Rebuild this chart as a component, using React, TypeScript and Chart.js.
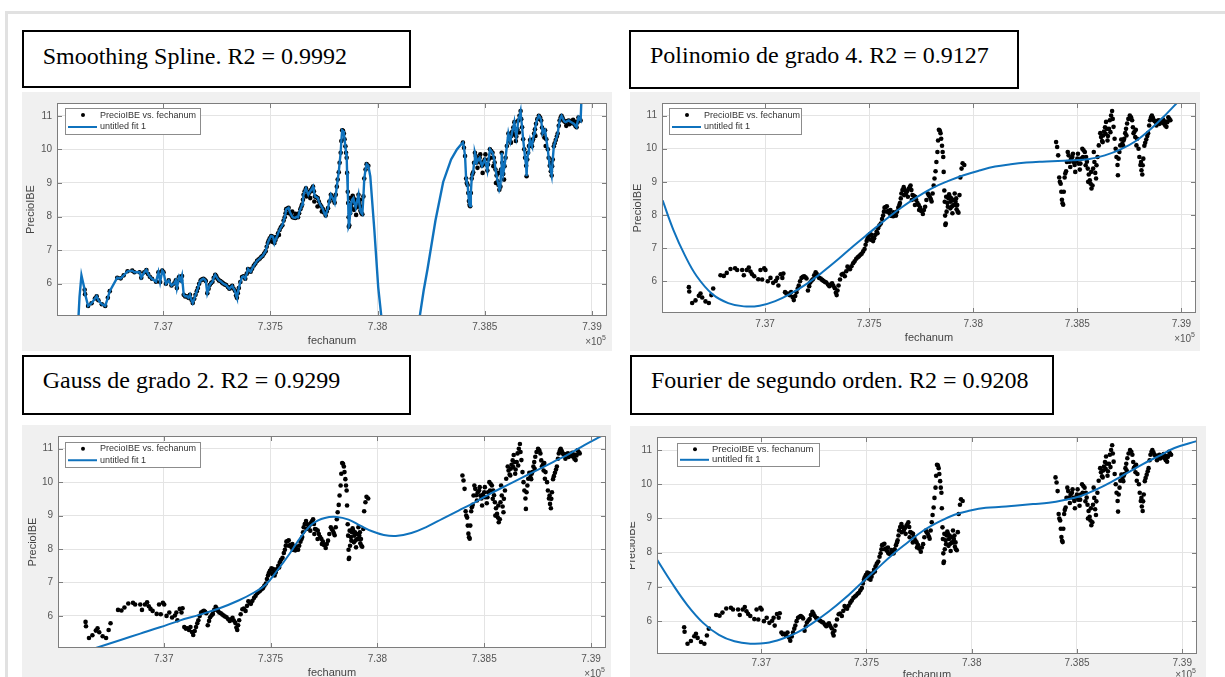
import React, { useEffect, useRef } from "react";
import { Chart, registerables } from "chart.js";

Chart.register(...registerables);

// ---------- data (x in units of 10^5, y = PrecioIBE) ----------
const X_TICKS = [7.37, 7.375, 7.38, 7.385, 7.39];
const Y_TICKS = [6, 7, 8, 9, 10, 11];
const X_MIN = 7.36505;
const X_MAX = 7.3907;
const Y_MIN = 5.04;
const Y_MAX = 11.38;

const SCATTER_LABEL = "PrecioIBE vs. fechanum";
const FIT_LABEL = "untitled fit 1";
const X_TITLE = "fechanum";
const Y_TITLE = "PrecioIBE";

const period1: [number, number][] = [
  [7.36634, 5.82], [7.36636, 5.69], [7.3665, 5.34], [7.36666, 5.42], [7.36682, 5.56],
  [7.3669, 5.63], [7.36698, 5.51], [7.36714, 5.39], [7.3673, 5.34], [7.36742, 5.58],
  [7.36751, 5.78], [7.36786, 6.18], [7.36802, 6.16], [7.36816, 6.25], [7.36834, 6.37],
  [7.36856, 6.39], [7.36866, 6.34], [7.3689, 6.34], [7.36898, 6.18], [7.36912, 6.34],
  [7.36922, 6.41], [7.3693, 6.29], [7.36938, 6.21], [7.36948, 6.15], [7.36967, 6.06],
  [7.36978, 6.34], [7.36986, 6.05], [7.36996, 6.39], [7.37002, 6.34], [7.37013, 6.0],
  [7.37026, 6.1], [7.37039, 5.95], [7.37052, 6.01], [7.37059, 6.1], [7.37064, 5.87],
  [7.37075, 6.21], [7.37083, 6.1], [7.37088, 6.23],
  [7.37096, 5.67], [7.37103, 5.62], [7.3711, 5.63], [7.37118, 5.58], [7.37125, 5.67],
  [7.37132, 5.52], [7.37138, 5.43], [7.37145, 5.55], [7.37151, 5.67], [7.37157, 5.78],
  [7.37162, 5.87], [7.37168, 6.0], [7.37175, 6.1], [7.37182, 6.13], [7.37188, 6.15],
  [7.37194, 6.12], [7.37199, 6.08], [7.37206, 5.72], [7.37212, 5.85], [7.37217, 5.96],
  [7.37224, 6.02], [7.3723, 6.06], [7.37236, 6.18], [7.37243, 6.27], [7.37248, 6.22],
  [7.37254, 6.15], [7.3726, 6.1], [7.37267, 6.08], [7.37274, 6.04], [7.3728, 6.01],
  [7.37287, 5.98], [7.37294, 5.96], [7.37302, 5.9], [7.37309, 5.85], [7.37316, 5.9],
  [7.37322, 5.94], [7.37328, 5.86], [7.37335, 5.79], [7.3734, 5.65], [7.37344, 5.58],
  [7.37348, 5.72], [7.37353, 5.87], [7.3736, 6.05], [7.37368, 6.2], [7.37375, 6.22],
  [7.37383, 6.15], [7.3739, 6.3], [7.37396, 6.44], [7.37402, 6.4], [7.37408, 6.36],
  [7.37415, 6.45], [7.37423, 6.54], [7.3743, 6.6], [7.37438, 6.68], [7.37445, 6.72],
  [7.37451, 6.75], [7.37458, 6.8], [7.37464, 6.83], [7.37471, 6.9], [7.37478, 6.97],
  [7.37483, 7.1], [7.37488, 7.21], [7.37492, 7.28], [7.37497, 7.35], [7.37504, 7.42],
  [7.37512, 7.4], [7.37516, 7.3], [7.37519, 7.21], [7.37524, 7.3], [7.3753, 7.4],
  [7.37536, 7.5], [7.37543, 7.6], [7.37549, 7.68], [7.37556, 7.74], [7.37562, 7.88],
  [7.37567, 7.98], [7.37571, 8.1], [7.37574, 8.22], [7.3758, 8.24], [7.37585, 8.26],
  [7.37592, 8.12], [7.37598, 8.05], [7.37604, 7.98], [7.3761, 7.97], [7.37616, 7.96],
  [7.37622, 7.99], [7.37629, 7.98], [7.37634, 8.1], [7.3764, 8.22], [7.37645, 8.3],
  [7.37648, 8.36], [7.37652, 8.5], [7.37655, 8.65], [7.3766, 8.75], [7.37666, 8.84],
  [7.37671, 8.75], [7.37677, 8.65], [7.37683, 8.72], [7.3769, 8.79], [7.37695, 8.84],
  [7.37699, 8.89], [7.37703, 8.75], [7.37708, 8.6], [7.37714, 8.58], [7.37721, 8.55],
  [7.37726, 8.45], [7.37732, 8.36], [7.37738, 8.3], [7.37745, 8.22], [7.3775, 8.12],
  [7.37758, 8.03], [7.37763, 8.15], [7.37769, 8.25], [7.37775, 8.45], [7.37782, 8.65],
  [7.37786, 8.6], [7.37791, 8.55], [7.37796, 8.48], [7.378, 8.41], [7.37805, 8.65],
  [7.3781, 8.89], [7.37814, 9.1], [7.37819, 9.32], [7.37823, 9.6], [7.37828, 9.9],
  [7.37831, 10.25], [7.37835, 10.57], [7.37839, 10.55], [7.37843, 10.47], [7.37846, 10.3],
  [7.3785, 10.09], [7.37853, 9.9], [7.37856, 9.75], [7.37858, 9.3], [7.37861, 8.74],
  [7.37863, 8.4], [7.37865, 7.98], [7.37866, 7.7], [7.37868, 7.74], [7.37872, 8.1],
  [7.37876, 8.36], [7.37881, 8.5], [7.37887, 8.55], [7.37892, 8.4], [7.37898, 8.26],
  [7.37904, 8.45], [7.37911, 8.65], [7.37915, 8.4], [7.3792, 8.17], [7.37925, 8.1],
  [7.37929, 8.07], [7.37934, 8.6], [7.37938, 9.13], [7.37944, 9.4], [7.37949, 9.56],
  [7.37957, 9.51],
];

const period2: [number, number][] = [
  [7.38398, 10.2], [7.38403, 10.05], [7.38408, 9.8], [7.38413, 9.13], [7.38416, 9.0],
  [7.3842, 8.94], [7.38423, 8.7], [7.38426, 8.46], [7.38429, 8.35], [7.38432, 8.31],
  [7.38435, 8.7], [7.38439, 9.13], [7.38442, 9.25], [7.38446, 9.32], [7.3845, 9.6],
  [7.38454, 9.9], [7.38458, 9.8], [7.38463, 9.61], [7.3847, 9.7], [7.38476, 9.75],
  [7.38482, 9.6], [7.38487, 9.51], [7.38494, 9.62], [7.385, 9.7], [7.38506, 9.55],
  [7.38512, 9.37], [7.38518, 9.7], [7.38524, 10.0], [7.3853, 9.95], [7.38536, 9.9],
  [7.38542, 9.75], [7.38546, 9.61], [7.3855, 9.4], [7.38555, 9.22], [7.3856, 9.05],
  [7.38564, 8.94], [7.38568, 8.8], [7.38573, 8.89], [7.38576, 9.4], [7.38579, 9.9],
  [7.38582, 9.6], [7.38586, 9.27], [7.38592, 9.5], [7.38597, 9.75], [7.38603, 10.1],
  [7.3861, 10.47], [7.38614, 10.35], [7.38619, 10.23], [7.38624, 10.4], [7.38628, 10.52],
  [7.38633, 10.65], [7.38638, 10.81], [7.38642, 10.6], [7.38647, 10.38], [7.38652, 10.6],
  [7.38656, 10.86], [7.38662, 11.0], [7.38667, 11.14], [7.3867, 10.9], [7.38674, 10.66],
  [7.38679, 10.3], [7.38684, 10.0], [7.38688, 9.75], [7.38693, 9.51], [7.38695, 9.2],
  [7.38698, 9.7], [7.38702, 9.9], [7.38706, 10.1], [7.38711, 10.28], [7.38716, 10.15],
  [7.3872, 10.09], [7.38725, 10.3], [7.3873, 10.47], [7.38734, 10.6], [7.38739, 10.76],
  [7.38745, 10.9], [7.38752, 11.0], [7.38758, 10.95], [7.38763, 10.86], [7.38767, 10.65],
  [7.3877, 10.47], [7.38775, 10.52], [7.38781, 10.57], [7.38787, 10.3], [7.38794, 10.0],
  [7.38798, 9.75], [7.38803, 9.51], [7.38808, 9.35], [7.38812, 9.22], [7.38817, 9.7],
  [7.38822, 10.09], [7.38826, 10.18], [7.38831, 10.28], [7.38836, 10.38], [7.3884, 10.47],
  [7.38845, 10.7], [7.38849, 10.86], [7.38854, 10.95], [7.38858, 11.0], [7.38863, 10.93],
  [7.38868, 10.86], [7.38872, 10.83], [7.38877, 10.81], [7.38885, 10.84], [7.38892, 10.86],
  [7.38898, 10.83], [7.38904, 10.81], [7.3891, 10.78], [7.38917, 10.76], [7.38922, 10.7],
  [7.38928, 10.66], [7.38932, 10.8], [7.38937, 10.95], [7.38942, 10.9], [7.38947, 10.86],
];

// further observations lying off the smoothed path (dense clusters)
const extraPrices: [number, number][] = [
  [7.3787, 8.55], [7.37878, 8.25], [7.37884, 8.62], [7.3789, 8.2], [7.37895, 8.5],
  [7.379, 8.05], [7.37906, 8.3], [7.37913, 8.3], [7.37918, 8.5], [7.37923, 8.3],
  [7.37668, 8.6], [7.37686, 8.55], [7.37705, 8.45], [7.3772, 8.3], [7.3774, 8.15],
  [7.37586, 8.1], [7.37602, 8.15], [7.37618, 8.08], [7.37508, 7.25], [7.3754, 7.45],
  [7.38466, 9.45], [7.38479, 9.85], [7.3849, 9.3], [7.38503, 9.85], [7.38515, 9.55],
  [7.38527, 9.75], [7.3854, 9.5], [7.38552, 9.0], [7.38566, 9.3], [7.3859, 9.1],
  [7.38622, 10.2], [7.38636, 10.45], [7.38645, 10.25], [7.38659, 10.5], [7.38722, 10.25],
  [7.38736, 10.4], [7.38778, 10.35], [7.38784, 10.1], [7.38806, 9.6], [7.38814, 9.5],
  [7.3888, 10.7], [7.38895, 10.75], [7.38912, 10.88], [7.38926, 10.82],
];

// smoothing spline: extra pieces outside the data (start, gap, end)
const splineLead: [number, number][] = [
  [7.36601, 4.5], [7.3661, 5.6], [7.36619, 6.25], [7.36626, 6.05],
];
const splineGap: [number, number][] = [
  [7.37966, 9.2], [7.37985, 7.6], [7.38003, 5.9], [7.38018, 5.0], [7.381, 2.0],
  [7.38196, 5.0], [7.38215, 5.8], [7.38233, 6.44], [7.3827, 7.88], [7.38306, 9.03],
  [7.38343, 9.7], [7.3837, 10.0], [7.3839, 10.15],
];
const splineTail: [number, number][] = [[7.38952, 11.7]];

const polyFit: [number, number][] = [
  [7.36508, 8.44], [7.36559, 7.56], [7.36615, 6.78], [7.36672, 6.15], [7.36747, 5.61],
  [7.36823, 5.34], [7.36898, 5.24], [7.36974, 5.26], [7.37049, 5.4], [7.37124, 5.63],
  [7.372, 5.92], [7.37275, 6.27], [7.37351, 6.66], [7.37426, 7.07], [7.37501, 7.46],
  [7.37577, 7.85], [7.37652, 8.21], [7.37728, 8.53], [7.37803, 8.81], [7.37878, 9.02],
  [7.37954, 9.2], [7.38029, 9.34], [7.38105, 9.46], [7.3818, 9.53], [7.38255, 9.58],
  [7.38331, 9.61], [7.38406, 9.63], [7.38482, 9.65], [7.38557, 9.69], [7.38632, 9.8],
  [7.38708, 9.98], [7.38783, 10.24], [7.38859, 10.63], [7.38934, 11.09], [7.38981, 11.4],
];

const gaussFit: [number, number][] = [
  [7.36682, 5.04], [7.36798, 5.28], [7.3689, 5.47], [7.36982, 5.66], [7.37074, 5.86],
  [7.37166, 6.03], [7.37258, 6.22], [7.3735, 6.46], [7.37423, 6.7], [7.37478, 6.94],
  [7.37534, 7.38], [7.37589, 7.86], [7.37644, 8.38], [7.37699, 8.77], [7.37754, 8.93],
  [7.3781, 8.96], [7.37865, 8.88], [7.3792, 8.7], [7.37975, 8.53], [7.3803, 8.42],
  [7.38086, 8.39], [7.38159, 8.48], [7.38233, 8.67], [7.38306, 8.91], [7.3838, 9.15],
  [7.38454, 9.39], [7.38527, 9.65], [7.38601, 9.89], [7.38675, 10.13], [7.38748, 10.36],
  [7.38822, 10.6], [7.38896, 10.84], [7.38969, 11.11], [7.39052, 11.39],
];

const fourierFit: [number, number][] = [
  [7.36502, 7.83], [7.36575, 7.12], [7.36649, 6.47], [7.36724, 5.95], [7.36799, 5.6],
  [7.36873, 5.41], [7.36948, 5.34], [7.37022, 5.36], [7.37097, 5.48], [7.37172, 5.67],
  [7.37246, 5.95], [7.37321, 6.28], [7.37396, 6.66], [7.3747, 7.08], [7.37545, 7.5],
  [7.37619, 7.92], [7.37694, 8.29], [7.37769, 8.64], [7.37843, 8.9], [7.37918, 9.11],
  [7.37993, 9.23], [7.38067, 9.31], [7.38142, 9.34], [7.38216, 9.38], [7.38291, 9.42],
  [7.38366, 9.46], [7.3844, 9.54], [7.38515, 9.65], [7.3859, 9.84], [7.38664, 10.07],
  [7.38739, 10.33], [7.38813, 10.59], [7.38888, 10.82], [7.38963, 11.06], [7.39069, 11.26],
];

// ---------- styling ----------
const SANS = '"Liberation Sans", Arial, Helvetica, sans-serif';
const SERIF = '"Liberation Serif", "Times New Roman", serif';
const BLUE = "#0f72bd";
const GRID = "#e4e4e4";
const AXIS = "#7d7d7d";
const TICK_TXT = "#555555";
const TITLE_TXT = "#444444";

type Pts = [number, number][];

const toXY = (pts: Pts) => pts.map(([x, y]) => ({ x, y }));

const splineLine: Pts = [...splineLead, ...period1, ...splineGap, ...period2, ...splineTail];
const allPrices: Pts = [...period1, ...period2, ...extraPrices];

const panels = [
  {
    key: "tl",
    title: "Smoothing Spline. R2 = 0.9992",
    box: { l: 22, t: 30, w: 389, h: 58 },
    text: { x: 42.7, base: 64.3 },
    cv: { l: 22, t: 92, w: 590, h: 259 },
    area: { l: 35, t: 3, r: 585, b: 224 },
    fit: splineLine,
    tension: 0,
    lineWidth: 2.4,
    legend: { dx: 8, dy: 5, w: 135, h: 26, font: 9 },
    xTickPad: 5,
    xTitleDy: 25,
    yTitleX: 9,
    expDy: 29,
  },
  {
    key: "tr",
    title: "Polinomio de grado 4. R2 = 0.9127",
    box: { l: 629, t: 30, w: 390, h: 59 },
    text: { x: 650, base: 63.5 },
    cv: { l: 630, t: 92, w: 570, h: 259 },
    area: { l: 32, t: 4, r: 566, b: 221 },
    fit: polyFit,
    tension: 0.4,
    lineWidth: 2,
    legend: { dx: 7, dy: 5, w: 132, h: 26, font: 9 },
    xTickPad: 5,
    xTitleDy: 25,
    yTitleX: 7.5,
    expDy: 29,
  },
  {
    key: "bl",
    title: "Gauss de grado 2. R2 = 0.9299",
    box: { l: 22, t: 355, w: 389, h: 60 },
    text: { x: 42.7, base: 387.7 },
    cv: { l: 22, t: 425, w: 589, h: 252 },
    area: { l: 36, t: 3, r: 584, b: 223 },
    fit: gaussFit,
    tension: 0.4,
    lineWidth: 2,
    legend: { dx: 7, dy: 6, w: 135, h: 25, font: 9 },
    xTickPad: 5,
    xTitleDy: 25,
    yTitleX: 10.8,
    expDy: 29,
  },
  {
    key: "br",
    title: "Fourier de segundo orden. R2 = 0.9208",
    box: { l: 630, t: 355, w: 424, h: 60 },
    text: { x: 651, base: 387.7 },
    cv: { l: 630, t: 426, w: 576, h: 251 },
    area: { l: 27, t: 2, r: 567, b: 228 },
    fit: fourierFit,
    tension: 0.4,
    lineWidth: 2,
    legend: { dx: 20, dy: 6, w: 142, h: 23, font: 9.5 },
    xTickPad: 3,
    xTitleDy: 21,
    yTitleX: 2,
    expDy: 24,
  },
];

type PanelCfg = (typeof panels)[number];

function matlabPlugin(p: PanelCfg) {
  return {
    id: "matlabLook_" + p.key,
    beforeDraw(chart: any) {
      const { ctx, chartArea: a, width, height } = chart;
      ctx.save();
      ctx.fillStyle = "#f0f0f0";
      ctx.fillRect(0, 0, width, height);
      ctx.fillStyle = "#ffffff";
      ctx.fillRect(a.left, a.top, a.right - a.left, a.bottom - a.top);
      ctx.restore();
    },
    afterDraw(chart: any) {
      const { ctx, chartArea: a, scales } = chart;
      ctx.save();
      // axes box
      ctx.strokeStyle = AXIS;
      ctx.lineWidth = 1;
      ctx.strokeRect(a.left + 0.5, a.top + 0.5, a.right - a.left - 1, a.bottom - a.top - 1);
      // inward tick marks
      ctx.beginPath();
      X_TICKS.forEach((v) => {
        const px = Math.round(scales.x.getPixelForValue(v)) + 0.5;
        ctx.moveTo(px, a.bottom);
        ctx.lineTo(px, a.bottom - 5);
        ctx.moveTo(px, a.top);
        ctx.lineTo(px, a.top + 5);
      });
      Y_TICKS.forEach((v) => {
        const py = Math.round(scales.y.getPixelForValue(v)) + 0.5;
        ctx.moveTo(a.left, py);
        ctx.lineTo(a.left + 5, py);
        ctx.moveTo(a.right, py);
        ctx.lineTo(a.right - 5, py);
      });
      ctx.stroke();

      // legend
      const lg = p.legend;
      const lx = a.left + lg.dx;
      const ly = a.top + lg.dy;
      ctx.fillStyle = "#ffffff";
      ctx.fillRect(lx, ly, lg.w, lg.h);
      ctx.strokeStyle = "#8c8c8c";
      ctx.strokeRect(Math.round(lx) + 0.5, Math.round(ly) + 0.5, lg.w, lg.h);
      const r1 = ly + lg.h * 0.27;
      const r2 = ly + lg.h * 0.73;
      const ds = chart.data.datasets;
      ctx.fillStyle = "#000";
      ctx.beginPath();
      ctx.arc(lx + 18, r1, 2, 0, Math.PI * 2);
      ctx.fill();
      ctx.strokeStyle = BLUE;
      ctx.lineWidth = 2;
      ctx.beginPath();
      ctx.moveTo(lx + 3, r2);
      ctx.lineTo(lx + 32, r2);
      ctx.stroke();
      ctx.fillStyle = "#333333";
      ctx.font = `${lg.font}px ${SANS}`;
      ctx.textAlign = "left";
      ctx.textBaseline = "middle";
      ctx.fillText(ds[1].label, lx + 35, r1);
      ctx.fillText(ds[0].label, lx + 35, r2);

      // axis titles
      ctx.fillStyle = TITLE_TXT;
      ctx.font = `11px ${SANS}`;
      ctx.textAlign = "center";
      ctx.textBaseline = "middle";
      ctx.fillText(X_TITLE, (a.left + a.right) / 2, a.bottom + p.xTitleDy);
      ctx.save();
      ctx.translate(p.yTitleX, (a.top + a.bottom) / 2);
      ctx.rotate(-Math.PI / 2);
      ctx.fillText(Y_TITLE, 0, 0);
      ctx.restore();

      // x10^5 exponent
      ctx.fillStyle = TICK_TXT;
      ctx.textAlign = "left";
      ctx.textBaseline = "alphabetic";
      ctx.font = `10px ${SANS}`;
      const base = "\u00d710";
      const w1 = ctx.measureText(base).width;
      ctx.font = `7px ${SANS}`;
      const w2 = ctx.measureText("5").width;
      const right = a.right - 1;
      ctx.font = `10px ${SANS}`;
      ctx.fillText(base, right - w1 - w2, a.bottom + p.expDy);
      ctx.font = `7px ${SANS}`;
      ctx.fillText("5", right - w2, a.bottom + p.expDy - 5);
      ctx.restore();
    },
  };
}

function Panel({ p }: { p: PanelCfg }) {
  const ref = useRef<HTMLCanvasElement | null>(null);
  useEffect(() => {
    if (!ref.current) return;
    const chart = new Chart(ref.current, {
      type: "scatter",
      data: {
        datasets: [
          {
            label: FIT_LABEL,
            data: toXY(p.fit),
            showLine: true,
            borderColor: BLUE,
            backgroundColor: BLUE,
            borderWidth: p.lineWidth,
            pointRadius: 0,
            tension: p.tension,
            order: 1,
            clip: 0,
          },
          {
            label: SCATTER_LABEL,
            data: toXY(allPrices),
            backgroundColor: "#000",
            borderWidth: 0,
            pointRadius: 2.3,
            order: 2,
          },
        ],
      } as any,
      options: {
        animation: false,
        responsive: false,
        devicePixelRatio: 1,
        events: [],
        layout: { padding: { left: 0, top: p.area.t, right: p.cv.w - p.area.r, bottom: 0 } },
        plugins: { legend: { display: false }, tooltip: { enabled: false } },
        scales: {
          x: {
            type: "linear",
            min: X_MIN,
            max: X_MAX,
            afterBuildTicks: (s: any) => {
              s.ticks = X_TICKS.map((v) => ({ value: v }));
            },
            afterFit: (s: any) => {
              s.height = p.cv.h - p.area.b;
            },
            grid: { color: GRID, drawTicks: false },
            border: { display: false },
            ticks: {
              padding: p.xTickPad,
              color: TICK_TXT,
              font: { family: SANS, size: 10 },
              maxRotation: 0,
              autoSkip: false,
              callback: (v: any) => String(v),
            },
          },
          y: {
            type: "linear",
            min: Y_MIN,
            max: Y_MAX,
            afterBuildTicks: (s: any) => {
              s.ticks = Y_TICKS.map((v) => ({ value: v }));
            },
            afterFit: (s: any) => {
              s.width = p.area.l;
            },
            grid: { color: GRID, drawTicks: false },
            border: { display: false },
            ticks: {
              padding: 5,
              color: TICK_TXT,
              font: { family: SANS, size: 10 },
              autoSkip: false,
              callback: (v: any) => String(v),
            },
          },
        },
      } as any,
      plugins: [matlabPlugin(p)],
    });
    return () => chart.destroy();
  }, [p]);
  return (
    <canvas
      ref={ref}
      width={p.cv.w}
      height={p.cv.h}
      style={{ position: "absolute", left: p.cv.l, top: p.cv.t, width: p.cv.w, height: p.cv.h, display: "block" }}
    />
  );
}

export default function App() {
  return (
    <div
      style={{
        position: "fixed",
        left: 0,
        top: 0,
        width: 1225,
        height: 677,
        overflow: "hidden",
        background: "#ffffff",
      }}
    >
      <div
        style={{
          position: "absolute",
          left: 5,
          top: 11,
          width: 1240,
          height: 700,
          borderTop: "3px solid #e1e1e1",
          borderLeft: "3px solid #e1e1e1",
        }}
      />
      {panels.map((p) => (
        <React.Fragment key={p.key}>
          <Panel p={p} />
          <div
            style={{
              position: "absolute",
              left: p.box.l,
              top: p.box.t,
              width: p.box.w,
              height: p.box.h,
              border: "2px solid #000",
              boxSizing: "border-box",
              background: "#fff",
            }}
          />
          <span
            style={{
              position: "absolute",
              left: p.text.x,
              top: p.text.base - 20.1,
              font: `24px ${SERIF}`,
              lineHeight: "24px",
              whiteSpace: "nowrap",
              color: "#000",
            }}
          >
            {p.title}
          </span>
        </React.Fragment>
      ))}
    </div>
  );
}
